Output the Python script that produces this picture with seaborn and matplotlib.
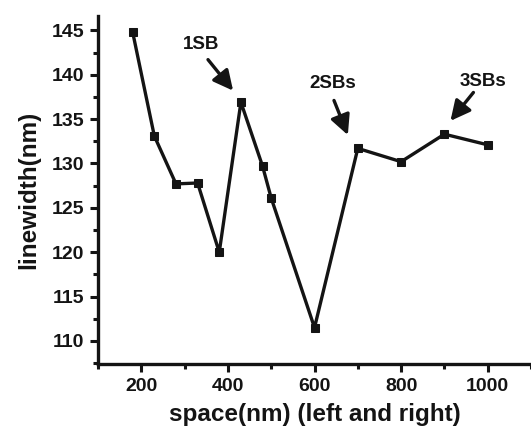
import matplotlib
matplotlib.use("Agg")
import matplotlib.pyplot as plt
import seaborn as sns
import pandas as pd
from matplotlib.ticker import MultipleLocator

space_nm = [180, 230, 280, 330, 380, 430, 480, 500, 600, 700, 800, 900, 1000]
linewidth_nm = [144.8, 133.1, 127.7, 127.8, 120.0, 136.9, 129.7, 126.1, 111.5, 131.7, 130.2, 133.3, 132.1]

ann_labels = ["1SB", "2SBs", "3SBs"]
ann_text_xy = [(338, 143.4), (642, 139.05), (988, 139.2)]
ann_tail_xy = [(354, 141.7), (645, 137.1), (967, 138.0)]
ann_head_xy = [(412, 138.2), (677, 133.2), (914, 134.8)]

sns.set_theme(style="ticks")
plt.rcParams['font.family'] = ['Liberation Sans', 'DejaVu Sans']
plt.rcParams['font.weight'] = 'bold'

df = pd.DataFrame({"space": space_nm, "lw": linewidth_nm})

fig = plt.figure(figsize=(5.31, 4.36), dpi=100)
ax = fig.add_axes([0.1846, 0.165, 0.8154, 0.798])

sns.lineplot(data=df, x="space", y="lw", ax=ax, color="#141414", linewidth=2.4,
             marker="s", markersize=5.5, markeredgecolor="#141414",
             markerfacecolor="#141414", sort=False)

ax.set_xlim(100, 1100)
ax.set_ylim(107.4, 146.6)
ax.xaxis.set_major_locator(MultipleLocator(200))
ax.xaxis.set_minor_locator(MultipleLocator(100))
ax.yaxis.set_major_locator(MultipleLocator(5))
ax.yaxis.set_minor_locator(MultipleLocator(2.5))

for s in ["top", "right"]:
    ax.spines[s].set_visible(False)
for s in ["left", "bottom"]:
    ax.spines[s].set_linewidth(2.4)
    ax.spines[s].set_color("#141414")

ax.tick_params(axis="both", which="major", direction="out", length=6, width=2.2,
               labelsize=14, colors="#141414", pad=4)
ax.tick_params(axis="both", which="minor", direction="out", length=3.5, width=2.2,
               colors="#141414")
for lab in ax.get_xticklabels() + ax.get_yticklabels():
    lab.set_fontweight("bold")

ax.set_xlabel("space(nm) (left and right)", fontsize=17.5, fontweight="bold",
              color="#141414", labelpad=6)
ax.set_ylabel("linewidth(nm)", fontsize=17.5, fontweight="bold", color="#141414",
              labelpad=8)

for lab, txy, tail, head in zip(ann_labels, ann_text_xy, ann_tail_xy, ann_head_xy):
    ax.text(txy[0], txy[1], lab, ha="center", va="center", fontsize=13.5,
            fontweight="bold", color="#141414")
    ax.annotate("", xy=head, xytext=tail,
                arrowprops=dict(arrowstyle="-|>,head_length=1.0,head_width=0.5",
                                color="#141414", lw=2.4, shrinkA=0, shrinkB=0))

fig.savefig("out.png", dpi=100)
